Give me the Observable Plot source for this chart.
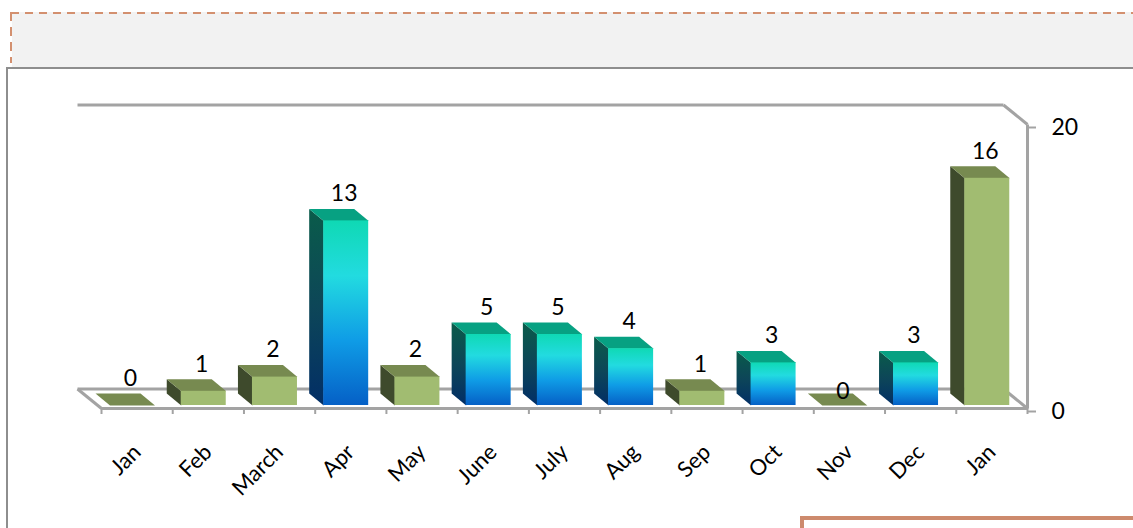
<!DOCTYPE html>
<html>
<head>
<meta charset="utf-8">
<script src="https://cdn.jsdelivr.net/npm/d3@7"></script>
<script src="https://cdn.jsdelivr.net/npm/@observablehq/plot@0.6"></script>
<style>
  body { margin: 0; background: #fff; width: 1133px; height: 528px; overflow: hidden; position: relative; font-family: Lato, sans-serif; }
  #chart { position: absolute; left: 0; top: 0; }
  .deco { position: absolute; }
</style>
</head>
<body>
<div id="chart"></div>
<div class="deco" style="left:12px;top:12px;width:1121px;height:55px;background:#f2f2f2;"></div>
<div class="deco" style="left:11px;top:12px;width:1122px;height:2px;background:repeating-linear-gradient(to right,#d3906f 0 8px,transparent 8px 14px);"></div>
<div class="deco" style="left:10px;top:12px;width:2px;height:51px;background:repeating-linear-gradient(to bottom,#d3906f 0 9px,transparent 9px 15px);"></div>
<div class="deco" style="left:6px;top:67px;width:1127px;height:461px;border-top:2px solid #8e8e8e;border-left:2px solid #8e8e8e;box-sizing:border-box;"></div>
<div class="deco" style="left:800px;top:516px;width:400px;height:40px;border-top:4px solid #cd8a6d;border-left:4px solid #cd8a6d;box-sizing:border-box;"></div>
<script>
// ---- data ----
const months = ["Jan","Feb","March","Apr","May","June","July","Aug","Sep","Oct","Nov","Dec","Jan"];
const values = [0, 1, 2, 13, 2, 5, 5, 4, 1, 3, 0, 3, 16];
const kinds  = ["A","A","A","B","A","B","B","B","A","B","A","B","A"];
const yTicks = [0, 20];

// ---- layout ----
const W = 1133, H = 528, ML = 101, MR = 106, MT = 124, MB = 120;
const kx = months.length / (W - ML - MR);   // data units per px (x)
const ky = 20 / (H - MT - MB);              // data units per px (y)
const px = p => p * kx, py = p => p * ky;

const rows = months.map((m, i) => ({i, month: m, v: values[i], kind: kinds[i]}));

// bar geometry (3D look)
const ddx = px(-14.5), ddy = py(12);
const bar = d => {
  const x0 = d.i + px(8.5), x1 = d.i + px(53.5), b = py(3), t = d.v + py(3);
  return {x0, x1, b, t};
};
const tops = [], sides = [];
rows.forEach(d => {
  const {x0, x1, b, t} = bar(d);
  [[x0, t], [x1, t], [x1 + ddx, t + ddy], [x0 + ddx, t + ddy]]
    .forEach(([x, y]) => tops.push({id: d.i, kind: d.kind, x, y}));
  if (d.v > 0)
    [[x0, b], [x0, t], [x0 + ddx, t + ddy], [x0 + ddx, b + ddy]]
      .forEach(([x, y]) => sides.push({id: d.i, kind: d.kind, x, y}));
});
const fronts = rows.filter(d => d.v > 0).map(d => ({...d, ...bar(d)}));

// walls / floor
const wx = px(-24), wy = py(19.5), N = months.length;
const walls = [
  {x1: wx, y1: wy, x2: N + wx, y2: wy},
  {x1: wx, y1: wy, x2: 0, y2: 0},
  {x1: N + wx, y1: wy, x2: N, y2: 0},
  {x1: wx, y1: 20 + wy, x2: N + wx, y2: 20 + wy},
  {x1: N + wx, y1: 20 + wy, x2: N, y2: 20},
  {x1: N, y1: 0, x2: N, y2: 20},
  {x1: 0, y1: 0, x2: N, y2: 0}
];

const colors = {
  A: {front: "#a1bc71", side: "#3e4a2c", top: "#778a50"},
  B: {front: "url(#bFront)", side: "url(#bSide)", top: "#07a182"}
};

const marks = [
  Plot.link(walls, {x1: "x1", y1: "y1", x2: "x2", y2: "y2", stroke: "#a3a3a3", strokeWidth: 3}),
  Plot.axisX(d3.range(N + 1), {tickSize: 6, tickFormat: () => "", stroke: "#a3a3a3", strokeWidth: 2, label: null}),
  Plot.axisY(yTicks, {anchor: "right", tickSize: 8, tickPadding: 16, stroke: "#a3a3a3", strokeWidth: 2, fill: "#000", fontSize: 23, dy: 3, label: null})
];
for (const k of ["A", "B"]) {
  marks.push(
    Plot.line(sides.filter(d => d.kind === k), {x: "x", y: "y", z: "id", fill: colors[k].side, stroke: "none"}),
    Plot.line(tops.filter(d => d.kind === k), {x: "x", y: "y", z: "id", fill: colors[k].top, stroke: "none"}),
    Plot.rect(fronts.filter(d => d.kind === k), {x1: "x0", x2: "x1", y1: "b", y2: "t", fill: colors[k].front})
  );
}
marks.push(
  Plot.text(rows.filter(d => d.month !== "Nov"), {x: d => d.i + px(29), y: d => d.v + py(3), text: d => String(d.v), dy: -27, fontSize: 23, fill: "#000"}),
  Plot.text(rows.filter(d => d.month === "Nov"), {x: d => d.i + px(29), y: d => d.v + py(3), text: d => String(d.v), dy: -14, fontSize: 23, fill: "#000"}),
  Plot.text(rows, {x: d => d.i + 0.5, y: 0, text: "month", rotate: -45, textAnchor: "end", dy: 40, dx: 0, fontSize: 22, fill: "#000"})
);

const chart = Plot.plot({
  width: W, height: H,
  marginLeft: ML, marginRight: MR, marginTop: MT, marginBottom: MB,
  x: {domain: [0, N], label: null},
  y: {domain: [0, 20], label: null},
  style: {fontFamily: "Lato, sans-serif", fontSize: "22px", background: "transparent", overflow: "visible", color: "#000"},
  marks
});

const defs = document.createElementNS("http://www.w3.org/2000/svg", "defs");
defs.innerHTML = `
  <linearGradient id="bFront" x1="0" y1="0" x2="0" y2="1">
    <stop offset="0" stop-color="#0fd9b4"/>
    <stop offset="0.3" stop-color="#22dbe0"/>
    <stop offset="0.65" stop-color="#0f9ce6"/>
    <stop offset="1" stop-color="#0560c6"/>
  </linearGradient>
  <linearGradient id="bSide" x1="0" y1="0" x2="0" y2="1">
    <stop offset="0" stop-color="#0a5c4a"/>
    <stop offset="0.5" stop-color="#0d4658"/>
    <stop offset="1" stop-color="#022e66"/>
  </linearGradient>`;
chart.insertBefore(defs, chart.firstChild);
document.getElementById("chart").appendChild(chart);
</script>
</body>
</html>
